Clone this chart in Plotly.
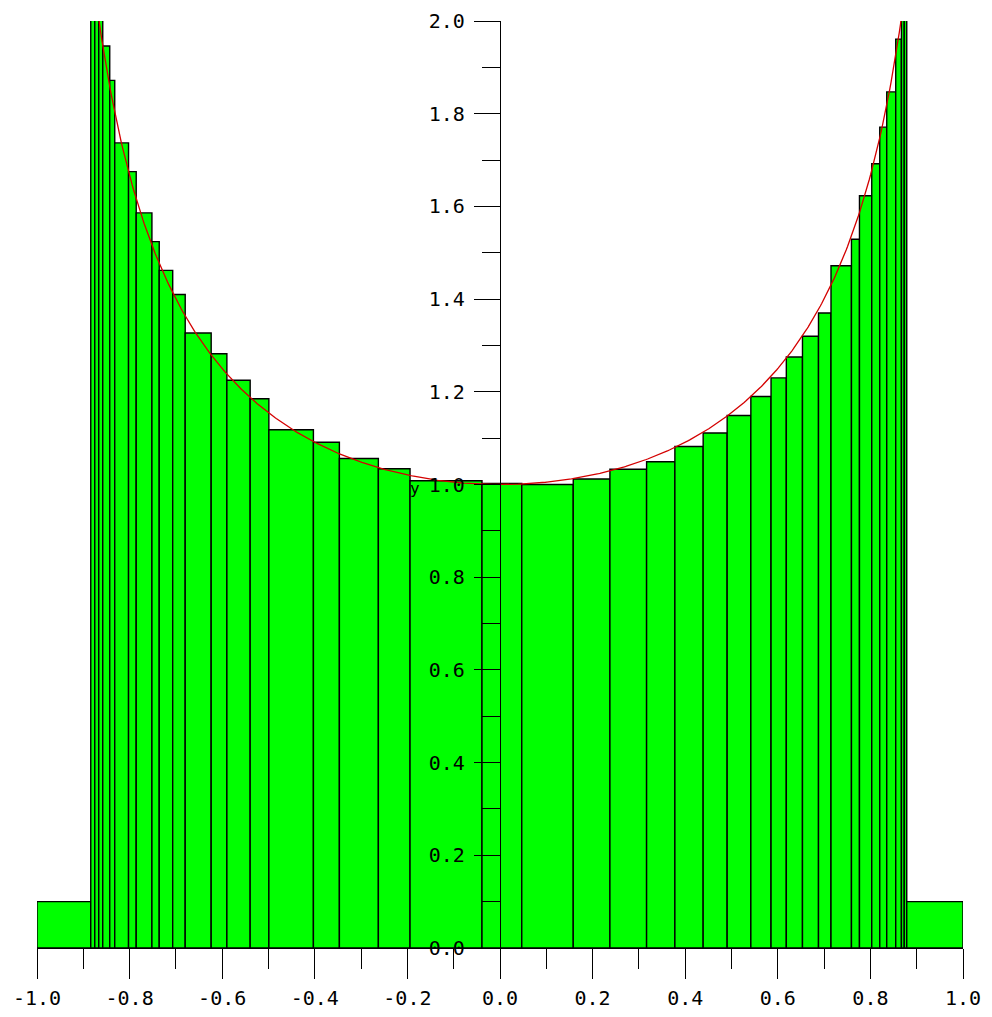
import numpy as np
import plotly.graph_objects as go

# Histogram bin edges (x) and bar heights
bin_edges = [-1.0, -0.8839, -0.8752, -0.8666, -0.8580, -0.8429, -0.8321, -0.8023,
             -0.7857, -0.7518, -0.7360, -0.7069, -0.6799, -0.6238, -0.5899, -0.5396,
             -0.4992, -0.4030, -0.3469, -0.2627, -0.1943, -0.0389, 0.0470, 0.1582,
             0.2374, 0.3166, 0.3777, 0.4388, 0.4906, 0.5418, 0.5854, 0.6184, 0.6533,
             0.6879, 0.7149, 0.7591, 0.7764, 0.8029, 0.8202, 0.8353, 0.8547, 0.8670,
             0.8731, 0.8785, 1.0]
bar_heights = [0.100, 2.10, 2.05, 2.01, 1.946, 1.872, 1.737, 1.675, 1.586, 1.524,
               1.462, 1.410, 1.327, 1.282, 1.225, 1.185, 1.118, 1.091, 1.056, 1.034,
               1.008, 1.002, 1.000, 1.012, 1.033, 1.049, 1.082, 1.111, 1.149, 1.190,
               1.230, 1.275, 1.320, 1.370, 1.472, 1.529, 1.623, 1.692, 1.771, 1.847,
               1.961, 2.05, 2.10, 0.100]

x_ticks = [-1.0, -0.8, -0.6, -0.4, -0.2, 0.0, 0.2, 0.4, 0.6, 0.8, 1.0]
x_labels = ["-1.0", "-0.8", "-0.6", "-0.4", "-0.2", "0.0", "0.2", "0.4", "0.6", "0.8", "1.0"]
y_ticks = [0.0, 0.2, 0.4, 0.6, 0.8, 1.0, 1.2, 1.4, 1.6, 1.8, 2.0]
y_labels = ["0.0", "0.2", "0.4", "0.6", "0.8", "1.0", "1.2", "1.4", "1.6", "1.8", "2.0"]

edges = np.array(bin_edges)
centers = (edges[:-1] + edges[1:]) / 2
widths = edges[1:] - edges[:-1]

xc = np.linspace(-0.8799, 0.8799, 600)
yc = 1.0 / np.sqrt(1.0 - xc ** 2)

fig = go.Figure()
fig.add_trace(go.Bar(x=centers, y=bar_heights, width=widths, base=0,
                     marker=dict(color="#00ff00", line=dict(color="black", width=1.4)),
                     hoverinfo="skip"))
fig.add_trace(go.Scatter(x=xc, y=yc, mode="lines",
                         line=dict(color="#d40000", width=1.3), hoverinfo="skip"))

font_axis = dict(family="DejaVu Sans Mono", size=20, color="black")
fig.update_layout(
    width=992, height=1017,
    margin=dict(l=29, r=37, t=13, b=77, autoexpand=False),
    paper_bgcolor="white", plot_bgcolor="white",
    showlegend=False,
    xaxis=dict(range=[-1, 1], domain=[0, 1], showgrid=False, zeroline=False,
               automargin=False,
               showline=True, linecolor="black", linewidth=1.4,
               ticks="outside", ticklen=30, tickwidth=1.4, tickcolor="black",
               tickvals=x_ticks, ticktext=x_labels, tickfont=font_axis,
               ticklabelstandoff=2,
               minor=dict(dtick=0.1, tick0=0, ticks="outside", ticklen=20,
                          tickwidth=1.4, tickcolor="black", showgrid=False),
               fixedrange=True),
    yaxis=dict(range=[0, 2], showgrid=False, zeroline=False,
               automargin=False,
               anchor="free", position=0.5, side="left",
               showline=True, linecolor="black", linewidth=1.4,
               ticks="outside", ticklen=26, tickwidth=1.4, tickcolor="black",
               tickvals=y_ticks, ticktext=y_labels, tickfont=font_axis,
               ticklabelstandoff=5,
               minor=dict(dtick=0.1, tick0=0, ticks="outside", ticklen=18,
                          tickwidth=1.4, tickcolor="black", showgrid=False),
               fixedrange=True),
    annotations=[dict(x=-0.183, y=0.991, xref="x", yref="y", text="y",
                      showarrow=False, font=dict(family="DejaVu Sans Mono", size=16,
                                                 color="black"))],
)

fig.write_html("out.html")
